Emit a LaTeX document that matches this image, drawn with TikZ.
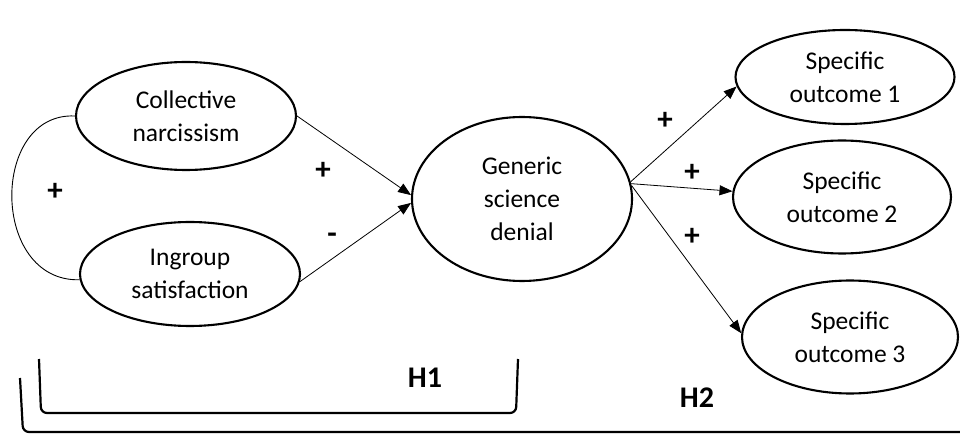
\documentclass[tikz,border=0pt]{standalone}
\usepackage{fontspec}
\setmainfont{Carlito}
\usetikzlibrary{arrows.meta,shapes.geometric}
\begin{document}
\begin{tikzpicture}[x=1pt,y=-1pt,
  latent/.style={draw,ellipse,line width=2.1pt,inner sep=0pt,align=center,
    font=\fontsize{25.5}{33}\selectfont},
  path/.style={line width=0.8pt,-{Triangle[length=13pt,width=10pt]}},
  sign/.style={font=\fontsize{31}{34}\selectfont\bfseries},
  hyp/.style={font=\fontsize{30}{34}\selectfont\bfseries},
  brace/.style={line width=2.2pt,rounded corners=6pt}]
\useasboundingbox (0,0) rectangle (960,435);
\node[latent,minimum width=220pt,minimum height=108pt] (cn) at (186,116) {Collective\\narcissism};
\node[latent,minimum width=220pt,minimum height=104pt] (is) at (190,274) {Ingroup\\satisfaction};
\node[latent,minimum width=220pt,minimum height=164pt] (gsd) at (522,199) {Generic\\science\\denial};
\node[latent,minimum width=219pt,minimum height=94pt] (so1) at (845,77) {Specific\\outcome 1};
\node[latent,minimum width=218pt,minimum height=113pt] (so2) at (842,197) {Specific\\outcome 2};
\node[latent,minimum width=216pt,minimum height=113pt] (so3) at (850,337) {Specific\\outcome 3};
% correlation
\draw[line width=0.9pt] (cn.west) .. controls (-10,112) and (-10,282) .. (is.183);
\node[sign] (pc) at (55,192) {+};
% H1 paths
\draw[path] (cn.east) -- (gsd.178);
\draw[path] (is.-4) -- (gsd.182);
\node[sign] (p1) at (323,171) {+};
\node[sign] (m1) at (332,238) {-};
% H2 paths
\draw[path] (gsd.9) -- (so1.185);
\draw[path] (gsd.8) -- (so2.177);
\draw[path] (gsd.7) -- (so3.178);
\node[sign] (p2) at (665,121) {+};
\node[sign] (p3) at (692,173) {+};
\node[sign] (p4) at (692,237) {+};
% brackets
\coordinate (b1a) at (39,359);
\coordinate (b1b) at (41,413);
\coordinate (b1c) at (516,413);
\coordinate (b1d) at (518,359);
\draw[brace] (b1a) -- (b1b) -- (b1c) -- (b1d);
\coordinate (b2a) at (20,378);
\coordinate (b2b) at (23,432);
\coordinate (b2c) at (961,432);
\draw[brace] (b2a) -- (b2b) -- (b2c);
\node[hyp] (h1) at (425,378) {H1};
\node[hyp] (h2) at (697,398) {H2};
\end{tikzpicture}
\end{document}
